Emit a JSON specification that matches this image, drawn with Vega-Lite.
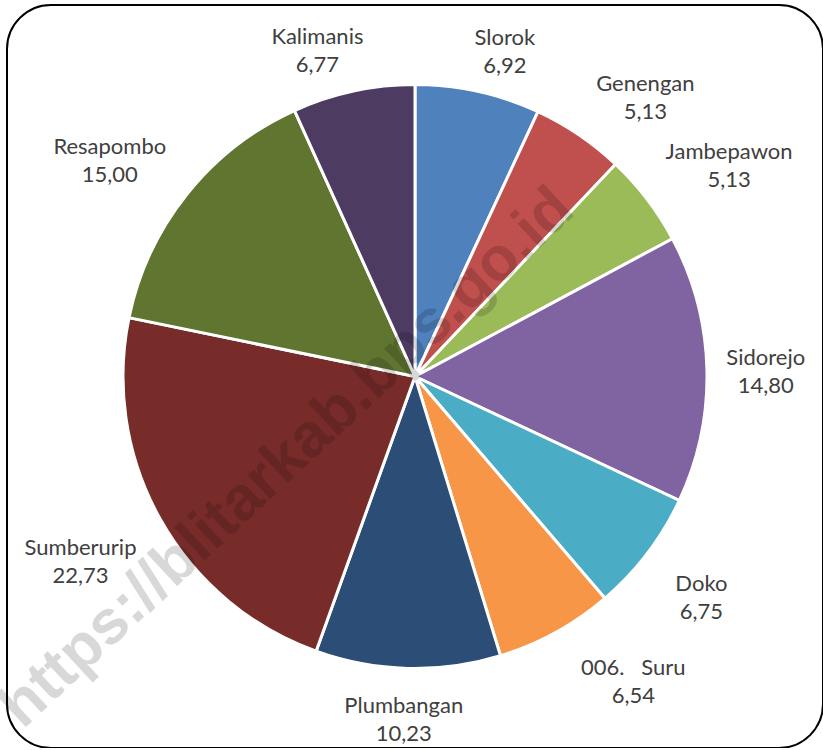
{
  "$schema": "https://vega.github.io/schema/vega-lite/v6.json",
  "width": 816,
  "height": 743,
  "autosize": {"type": "none"},
  "padding": {"left": 7, "top": 5, "right": 0, "bottom": 0},
  "background": "white",
  "config": {
    "view": {"stroke": null},
    "locale": {"number": {"decimal": ",", "thousands": ".", "grouping": [3], "currency": ["", ""]}}
  },
  "datasets": {
    "desa": [
      {"no": 1, "name": "Slorok", "value": 6.92},
      {"no": 2, "name": "Genengan", "value": 5.13},
      {"no": 3, "name": "Jambepawon", "value": 5.13},
      {"no": 4, "name": "Sidorejo", "value": 14.80},
      {"no": 5, "name": "Doko", "value": 6.75},
      {"no": 6, "name": "006.\u00a0\u00a0\u00a0Suru", "value": 6.54},
      {"no": 7, "name": "Plumbangan", "value": 10.23},
      {"no": 8, "name": "Sumberurip", "value": 22.73},
      {"no": 9, "name": "Resapombo", "value": 15.00},
      {"no": 10, "name": "Kalimanis", "value": 6.77}
    ],
    "wm": [{"text": "https://blitarkab.bps.go.id"}]
  },
  "layer": [
    {
      "data": {"name": "wm"},
      "mark": {"type": "rect", "fill": "white", "stroke": "#000000", "strokeWidth": 2, "cornerRadius": 44}
    },
    {
      "data": {"name": "desa"},
      "mark": {"type": "arc", "radius": 292, "stroke": "white", "strokeWidth": 3},
      "encoding": {
        "theta": {"field": "value", "type": "quantitative", "stack": true},
        "order": {"field": "no", "type": "quantitative"},
        "color": {
          "field": "name",
          "type": "nominal",
          "legend": null,
          "scale": {
            "domain": ["Slorok", "Genengan", "Jambepawon", "Sidorejo", "Doko", "006.\u00a0\u00a0\u00a0Suru", "Plumbangan", "Sumberurip", "Resapombo", "Kalimanis"],
            "range": ["#4F81BD", "#C0504D", "#9BBB59", "#8064A2", "#4BACC6", "#F79646", "#2C4D75", "#772C2A", "#5F7530", "#4D3B62"]
          }
        }
      }
    },
    {
      "data": {"name": "wm"},
      "mark": {
        "type": "text",
        "font": "Liberation Sans",
        "fontWeight": "bold",
        "fontSize": 62,
        "angle": -43,
        "align": "center",
        "baseline": "middle",
        "fill": "#000000",
        "opacity": 0.15,
        "dx": -149,
        "dy": -28
      },
      "encoding": {"text": {"field": "text", "type": "nominal"}}
    },
    {
      "data": {"name": "desa"},
      "mark": {
        "type": "text", "radius": 310, "font": "Lato", "fontSize": 22, "fill": "#404040", "align": "center", "baseline": "middle",
        "dx": {"expr": "0.5*max(length(datum.name)*10.2, 46)*clamp(3*sin(scale('theta', 0.5*datum.value_start + 0.5*datum.value_end)), -1, 1) + 18*clamp(10*sin(scale('theta', 0.5*datum.value_start + 0.5*datum.value_end)), -1, 1)*pow(sin(2*scale('theta', 0.5*datum.value_start + 0.5*datum.value_end)), 2)"},
        "dy": {"expr": "-8 - 28*clamp(3*cos(scale('theta', 0.5*datum.value_start + 0.5*datum.value_end)), -1, 1)"}
      },
      "encoding": {
        "theta": {"field": "value", "type": "quantitative", "stack": true},
        "order": {"field": "no", "type": "quantitative"},
        "detail": {"field": "name", "type": "nominal"},
        "text": {"field": "name", "type": "nominal"}
      }
    },
    {
      "data": {"name": "desa"},
      "mark": {
        "type": "text", "radius": 310, "font": "Lato", "fontSize": 22, "fill": "#404040", "align": "center", "baseline": "middle",
        "dx": {"expr": "0.5*max(length(datum.name)*10.2, 46)*clamp(3*sin(scale('theta', 0.5*datum.value_start + 0.5*datum.value_end)), -1, 1) + 18*clamp(10*sin(scale('theta', 0.5*datum.value_start + 0.5*datum.value_end)), -1, 1)*pow(sin(2*scale('theta', 0.5*datum.value_start + 0.5*datum.value_end)), 2)"},
        "dy": {"expr": "20 - 28*clamp(3*cos(scale('theta', 0.5*datum.value_start + 0.5*datum.value_end)), -1, 1)"}
      },
      "encoding": {
        "theta": {"field": "value", "type": "quantitative", "stack": true},
        "order": {"field": "no", "type": "quantitative"},
        "detail": {"field": "name", "type": "nominal"},
        "text": {"field": "value", "type": "quantitative", "format": ".2f"}
      }
    }
  ]
}
